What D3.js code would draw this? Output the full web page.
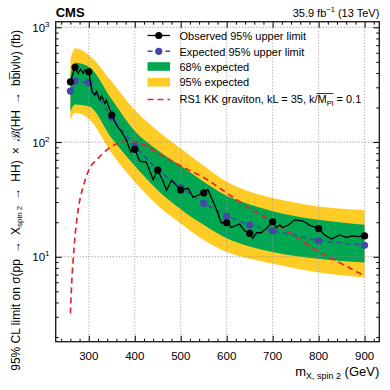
<!DOCTYPE html>
<html><head><meta charset="utf-8">
<script src="https://cdn.jsdelivr.net/npm/d3@7"></script>
<style>body{margin:0;background:#fff} svg{display:block} text{font-family:"Liberation Sans",Arial,sans-serif;fill:#000}</style>
</head><body><svg id="c" width="390" height="390"></svg>
<script>
// ---- data ----
const masses      = [260, 270, 300, 350, 400, 450, 500, 550, 600, 650, 700, 800, 900];
const observed    = [335, 448, 410, 172, 86.4, 57, 38.2, 36.1, 19.8, 16.0, 20.2, 17.6, 15.2];
const expected    = [278, 340, 329, 165, 92, 57, 40, 29.2, 22.6, 18.9, 16.9, 13.8, 12.6];
const green68Lo   = [184, 212, 205, 108, 62, 38, 26, 19, 14.5, 12.3, 11, 9.6, 8.9];
const green68Hi   = [384, 490, 454, 235, 125, 85, 62, 45, 34, 28.5, 25, 21, 19];
const yellow95Lo  = [155, 180, 160, 80, 45, 28, 19.5, 14, 11, 9.6, 8.7, 7.3, 6.6];
const yellow95Hi  = [526, 656, 573, 335, 190, 125, 88, 62, 45, 37, 32.5, 27.5, 25.5];
// observed limit evaluated on a finer mass grid (line)
const obsFineMass = [260,270,277,282,288,291,300,307,313,317,324,328,335,338,350,360,371,382,391,400,411,425,440,450,462,469,480,500,516,527,550,559,577,588,600,610,628,639,650,657,665,675,686,700,708,715,722,735,748,766,780,800,813,828,846,860,875,885,900];
const obsFineVal  = [335,448,397,431,397,424,410,275,257,275,232,252,217,232,172,141,123,104,82,86.4,68,67,47,57,45,38,46.6,38.2,39.5,33,36.1,38.5,26.4,19.8,19.8,18,19.3,16.9,16.0,14.5,16.2,16.2,17.6,20.2,18,18.9,18,19,21,20.5,18.9,17.6,15.5,14.3,15.5,14.8,15.2,15,15.2];
// RS1 KK graviton theory
const rsMass = [260,262,266,270,277,288,300,320,340,360,380,400,420,450,500,550,600,650,700,750,800,850,900];
const rsVal  = [3.2,5.1,9.4,15,26,41,57,72,86,96,102,101,95,80,62,49,36,26.4,20.2,15,11.1,8.7,6.8];
const xTicks = [300,400,500,600,700,800,900];
const yTicks = [10,100,1000];
const legendLabels = ["Observed 95% upper limit","Expected 95% upper limit","68% expected","95% expected"];

// ---- layout ----
const L=55.7, R=379.3, T=21.7, B=341.7;
const svg = d3.select("#c");
const x = d3.scaleLinear().domain([228,932]).range([L,R]);
const y = d3.scaleLog().domain([1.82,1119]).range([B,T]);
const GREEN="#00a651", YELLOW="#ffcb25", RED="#e5262e", BLUE="#4646a8";

svg.append("defs").append("clipPath").attr("id","clip").append("rect")
  .attr("x",L).attr("y",T).attr("width",R-L).attr("height",B-T);
const g = svg.append("g").attr("clip-path","url(#clip)");

const idx = masses.map((m,i)=>i);
const area = (lo,hi)=>d3.area().x(i=>x(masses[i])).y0(i=>y(lo[i])).y1(i=>y(hi[i])).curve(d3.curveMonotoneX);
g.append("path").attr("d",area(yellow95Lo,yellow95Hi)(idx)).attr("fill",YELLOW);
g.append("path").attr("d",area(green68Lo,green68Hi)(idx)).attr("fill",GREEN);

// grid
g.selectAll(".vg").data(xTicks).join("line").attr("x1",d=>x(d)).attr("x2",d=>x(d)).attr("y1",T).attr("y2",B)
  .attr("stroke","#999").attr("stroke-width",1).attr("stroke-dasharray","1,2");
g.selectAll(".hg").data(yTicks).join("line").attr("y1",d=>y(d)).attr("y2",d=>y(d)).attr("x1",L).attr("x2",R)
  .attr("stroke","#888").attr("stroke-width",1).attr("stroke-dasharray","1,2");

// RS1
g.append("path").attr("d",d3.line().x(i=>x(rsMass[i])).y(i=>y(rsVal[i])).curve(d3.curveMonotoneX)(rsMass.map((m,i)=>i)))
  .attr("fill","none").attr("stroke",RED).attr("stroke-width",1.7).attr("stroke-dasharray","6,4");
// expected
g.append("path").attr("d",d3.line().x(i=>x(masses[i])).y(i=>y(expected[i]))(idx))
  .attr("fill","none").attr("stroke",BLUE).attr("stroke-width",1.5).attr("stroke-dasharray","5,4");
g.selectAll(".ed").data(idx).join("circle").attr("cx",i=>x(masses[i])).attr("cy",i=>y(expected[i])).attr("r",3.6).attr("fill",BLUE);
// observed
g.append("path").attr("d",d3.line().x(i=>x(obsFineMass[i])).y(i=>y(obsFineVal[i]))(obsFineMass.map((m,i)=>i)))
  .attr("fill","none").attr("stroke","#000").attr("stroke-width",1.3);
g.selectAll(".od").data(idx).join("circle").attr("cx",i=>x(masses[i])).attr("cy",i=>y(observed[i])).attr("r",3.6).attr("fill","#000");

// axes
const minorX = d3.range(240,932,20).filter(v=>v%100!==0);
const minorY = [];
[1,10,100,1000].forEach(d=>{for(let k=2;k<=9;k++){const v=d*k; if(v>1.82&&v<1119) minorY.push(v);}});
function ax(gen,tr,vals,size){
  const a=svg.append("g").attr("transform",tr).call(gen.tickValues(vals).tickSize(size).tickFormat(""));
  a.select(".domain").remove(); a.selectAll("line").attr("stroke","#000").attr("stroke-width",1);
  return a;
}
ax(d3.axisBottom(x),`translate(0,${B})`,xTicks,-6);
ax(d3.axisBottom(x),`translate(0,${B})`,minorX,-3);
ax(d3.axisTop(x),`translate(0,${T})`,xTicks,-6);
ax(d3.axisTop(x),`translate(0,${T})`,minorX,-3);
ax(d3.axisLeft(y),`translate(${L},0)`,yTicks,-6);
ax(d3.axisLeft(y),`translate(${L},0)`,minorY,-3);
ax(d3.axisRight(y),`translate(${R},0)`,yTicks,-6);
ax(d3.axisRight(y),`translate(${R},0)`,minorY,-3);
svg.append("rect").attr("x",L).attr("y",T).attr("width",R-L).attr("height",B-T)
  .attr("fill","none").attr("stroke","#222").attr("stroke-width",1.4);

// tick labels
svg.selectAll(".xl").data(xTicks).join("text").attr("x",d=>x(d)).attr("y",359.5)
  .attr("text-anchor","middle").attr("font-size",11.5).text(d=>d);
yTicks.forEach(v=>{
  const t=svg.append("text").attr("x",49.5).attr("y",y(v)+4.5).attr("text-anchor","end").attr("font-size",11.5);
  t.append("tspan").text("10");
  t.append("tspan").attr("font-size",8).attr("dy",-5).text(Math.round(Math.log10(v)));
});

// axis titles
const xt=svg.append("text").attr("x",R).attr("y",375.5).attr("text-anchor","end").attr("font-size",13);
xt.append("tspan").text("m");
xt.append("tspan").attr("font-size",9).attr("dy",3).text("X, spin 2");
xt.append("tspan").attr("dy",-3).text(" (GeV)");

const sp="\u2002";
const yt=svg.append("text").attr("transform","translate(19.5,30) rotate(-90)").attr("text-anchor","end").attr("font-size",12);
yt.append("tspan").text("95% CL limit on σ(pp"+sp+"→"+sp+"X");
yt.append("tspan").attr("font-size",8).attr("dy",2.5).text("spin 2");
yt.append("tspan").attr("dy",-2.5).text(sp+"→"+sp+"HH)"+sp+"×"+sp);
yt.append("tspan").text("ℬ");
yt.append("tspan").text("(HH"+sp+"→"+sp+"bb\u0305lνlν) (fb)");

svg.append("text").attr("x",L).attr("y",16.5).attr("font-size",13).attr("font-weight","bold").text("CMS");
const lum=svg.append("text").attr("x",R).attr("y",16.5).attr("text-anchor","end").attr("font-size",11);
lum.append("tspan").text("35.9 fb");
lum.append("tspan").attr("font-size",7.5).attr("dy",-4.5).text("−1");
lum.append("tspan").attr("dy",4.5).text(" (13 TeV)");

// legend
const lx0=147.5, lx1=170, tx=179.5;
const rows=[35.5,51.3,66.5,82.2,99.5], bases=[39.5,55.5,70.8,86.3,103];
svg.append("line").attr("x1",lx0).attr("x2",lx1).attr("y1",rows[0]).attr("y2",rows[0]).attr("stroke","#000").attr("stroke-width",1.3);
svg.append("circle").attr("cx",(lx0+lx1)/2).attr("cy",rows[0]).attr("r",3.6).attr("fill","#000");
svg.append("line").attr("x1",lx0).attr("x2",lx1).attr("y1",rows[1]).attr("y2",rows[1]).attr("stroke",BLUE).attr("stroke-width",1.5).attr("stroke-dasharray","5,4");
svg.append("circle").attr("cx",(lx0+lx1)/2).attr("cy",rows[1]).attr("r",3.6).attr("fill",BLUE);
svg.append("rect").attr("x",lx0).attr("y",rows[2]-4.3).attr("width",lx1-lx0).attr("height",8.6).attr("fill",GREEN);
svg.append("rect").attr("x",lx0).attr("y",rows[3]-4.3).attr("width",lx1-lx0).attr("height",8.6).attr("fill",YELLOW);
svg.append("line").attr("x1",lx0).attr("x2",lx1).attr("y1",rows[4]).attr("y2",rows[4]).attr("stroke",RED).attr("stroke-width",1.7).attr("stroke-dasharray","6,4");
legendLabels.forEach((s,i)=>svg.append("text").attr("x",tx).attr("y",bases[i]).attr("font-size",11).text(s));
const rt=svg.append("text").attr("x",tx).attr("y",bases[4]).attr("font-size",11);
rt.append("tspan").text("RS1 KK graviton, kL = 35, k/M");
rt.append("tspan").attr("font-size",7.5).attr("dy",2.5).text("Pl");
rt.append("tspan").attr("dy",-2.5).text(" = 0.1");
const s0="RS1 KK graviton, kL = 35, k/".length;
const n=rt.node();
const xa=n.getStartPositionOfChar(s0).x, xb=n.getEndPositionOfChar(s0+2).x;
svg.append("line").attr("x1",xa-1).attr("x2",xb).attr("y1",bases[4]-9.5).attr("y2",bases[4]-9.5).attr("stroke","#000").attr("stroke-width",0.8);
</script></body></html>
